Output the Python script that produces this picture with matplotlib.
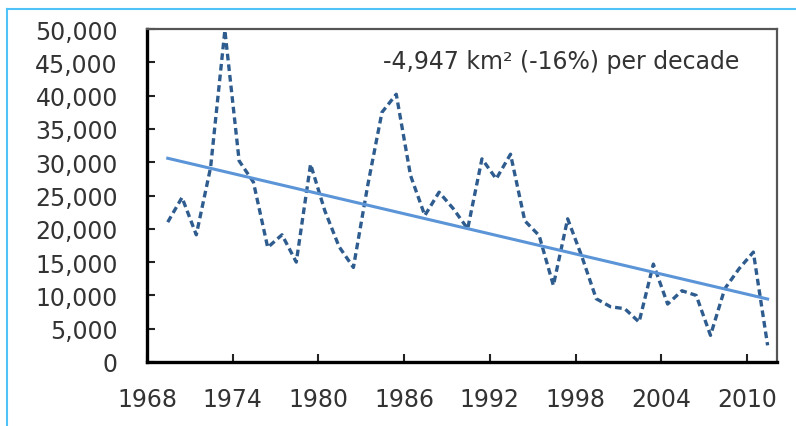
import numpy as np
import matplotlib
matplotlib.use('Agg')
import matplotlib.pyplot as plt
from matplotlib.lines import Line2D
from matplotlib.ticker import FuncFormatter

# yearly values (km2)
years = np.arange(1969, 2012)
values = [21000, 24700, 19100, 29200, 49800, 30200, 27000, 17200, 19100, 15000,
          29700, 22700, 17300, 14200, 26500, 37500, 40200, 28000, 22000, 25500,
          23000, 20000, 30500, 27500, 31200, 21200, 19000, 11500, 21500, 15800,
          9500, 8300, 8000, 6000, 14700, 8700, 10700, 10000, 4000, 11000,
          14000, 16500, 2500]
tick_years = [1968, 1974, 1980, 1986, 1992, 1998, 2004, 2010]
trend_label = '-4,947 km\u00b2 (-16%) per decade'

# points sit between the year ticks, like an excel category axis
xpos = years + 0.45

fig = plt.figure(figsize=(7.96, 4.27), dpi=100)
ax = fig.add_axes([0.1847, 0.1499, 0.7913, 0.7798])

ax.plot(xpos, values, ls=(0, (2.0, 1.2)), color='#2e5c8e', lw=2.4)

# linear trend fitted to the series
coef = np.polyfit(xpos, values, 1)
ax.plot(xpos, np.polyval(coef, xpos), color='#5b95d8', lw=2.2)

ax.set_xlim(1968, 2012.1)
ax.set_ylim(0, 50000)
ax.set_xticks(tick_years)
ax.set_yticks(np.arange(0, 50001, 5000))
ax.yaxis.set_major_formatter(FuncFormatter(lambda v, p: f'{int(v):,}'))

ax.tick_params(axis='both', direction='in', length=6, width=1.5, color='#222222',
               labelsize=17, labelcolor='#333333')
ax.tick_params(axis='y', pad=21)
ax.tick_params(axis='x', pad=18)

for s in ['left', 'bottom']:
    ax.spines[s].set_linewidth(2.4)
    ax.spines[s].set_color('black')
for s in ['top', 'right']:
    ax.spines[s].set_linewidth(1.6)
    ax.spines[s].set_color('#555555')

ax.text(0.375, 0.905, trend_label, transform=ax.transAxes, fontsize=17,
        color='#333333', ha='left', va='center')

# light blue frame on top and left edge
fig.add_artist(Line2D([0.009, 1.0], [0.976, 0.976], transform=fig.transFigure,
                      color='#4fc3f7', lw=1.5))
fig.add_artist(Line2D([0.009, 0.009], [0.0, 0.976], transform=fig.transFigure,
                      color='#4fc3f7', lw=1.5))

fig.savefig('out.png', dpi=100)
